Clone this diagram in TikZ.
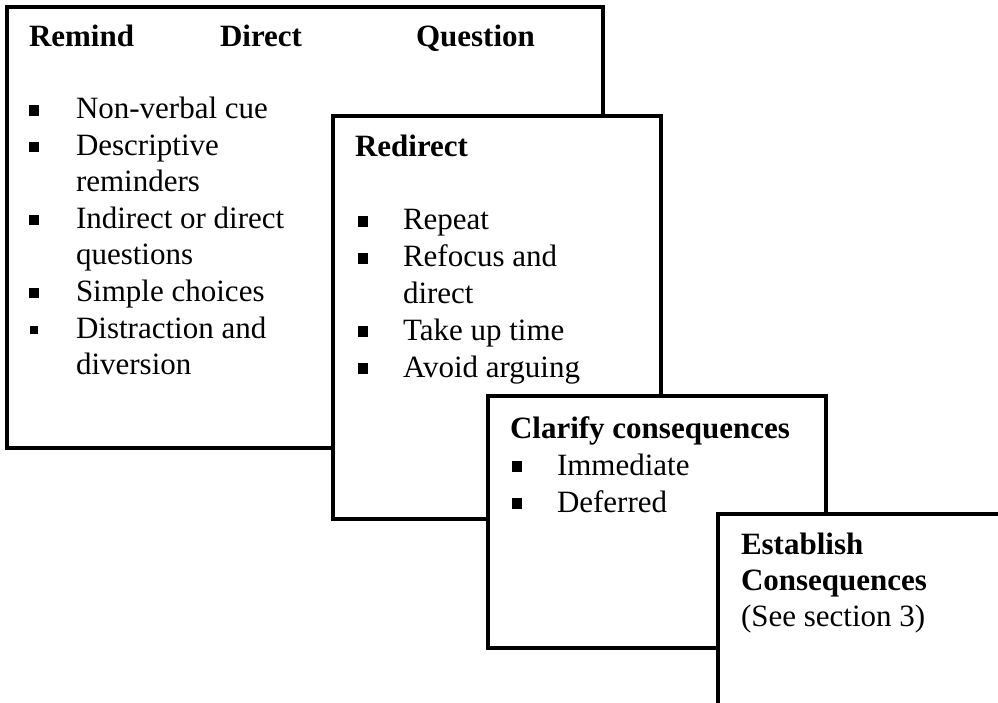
\documentclass[tikz,border=0pt]{standalone}
\usepackage{fontspec}
\setmainfont{Liberation Serif}
\tikzset{
  panel/.style={draw=black, line width=3.2pt, fill=white, anchor=north west, inner sep=0pt, outer sep=0pt},
  txt/.style={anchor=base west, inner sep=0pt, outer sep=0pt, font=\fontsize{31}{36.5}\selectfont},
  head/.style={txt, font=\fontsize{31}{36.5}\selectfont\bfseries},
  bul/.style={fill=black, inner sep=0pt, minimum size=10.5pt},
  sbul/.style={fill=black, inner sep=0pt, minimum size=7.5pt}
}
\begin{document}
\begin{tikzpicture}[x=1pt,y=-1pt]
\useasboundingbox (0,0) rectangle (998,703);
\clip (0,0) rectangle (998,703);
% Box 1
\node[panel, minimum width=596pt, minimum height=441pt] (box1) at (7,7) {};
\node[head] (h1a) at (29,47) {Remind};
\node[head] (h1b) at (220,47) {Direct};
\node[head] (h1c) at (416,47) {Question};
\node[bul] (b11) at (34,110.5) {};
\node[txt] (t11) at (76,119) {Non-verbal cue};
\node[bul] (b12) at (34,147) {};
\node[txt] (t12) at (76,155.5) {Descriptive};
\node[txt] (t13) at (76,192) {reminders};
\node[bul] (b14) at (34,220) {};
\node[txt] (t14) at (76,228.5) {Indirect or direct};
\node[txt] (t15) at (76,265) {questions};
\node[bul] (b16) at (34,293) {};
\node[txt] (t16) at (76,301.5) {Simple choices};
\node[sbul] (b17) at (34,330) {};
\node[txt] (t17) at (76,338) {Distraction and};
\node[txt] (t18) at (76,374.5) {diversion};
% Box 2
\node[panel, minimum width=328pt, minimum height=403pt] (box2) at (333,116) {};
\node[head] (h2) at (355,157) {Redirect};
\node[bul] (b21) at (363,221.5) {};
\node[txt] (t21) at (403,230) {Repeat};
\node[bul] (b22) at (363,258.5) {};
\node[txt] (t22) at (403,267) {Refocus and};
\node[txt] (t23) at (403,303.5) {direct};
\node[bul] (b24) at (363,331.5) {};
\node[txt] (t24) at (403,340) {Take up time};
\node[bul] (b25) at (363,368.5) {};
\node[txt] (t25) at (403,377) {Avoid arguing};
% Box 3
\node[panel, minimum width=338pt, minimum height=252pt] (box3) at (488,396) {};
\node[head] (h3) at (510,438) {Clarify consequences};
\node[bul] (b31) at (517,466.5) {};
\node[txt] (t31) at (557,475) {Immediate};
\node[bul] (b32) at (517,503.5) {};
\node[txt] (t32) at (557,512) {Deferred};
% Box 4
\node[panel, minimum width=400pt, minimum height=300pt] (box4) at (718,514) {};
\node[head] (h4a) at (741,554) {Establish};
\node[head] (h4b) at (741,590) {Consequences};
\node[txt] (t4) at (741,626) {(See section 3)};
\end{tikzpicture}
\end{document}
